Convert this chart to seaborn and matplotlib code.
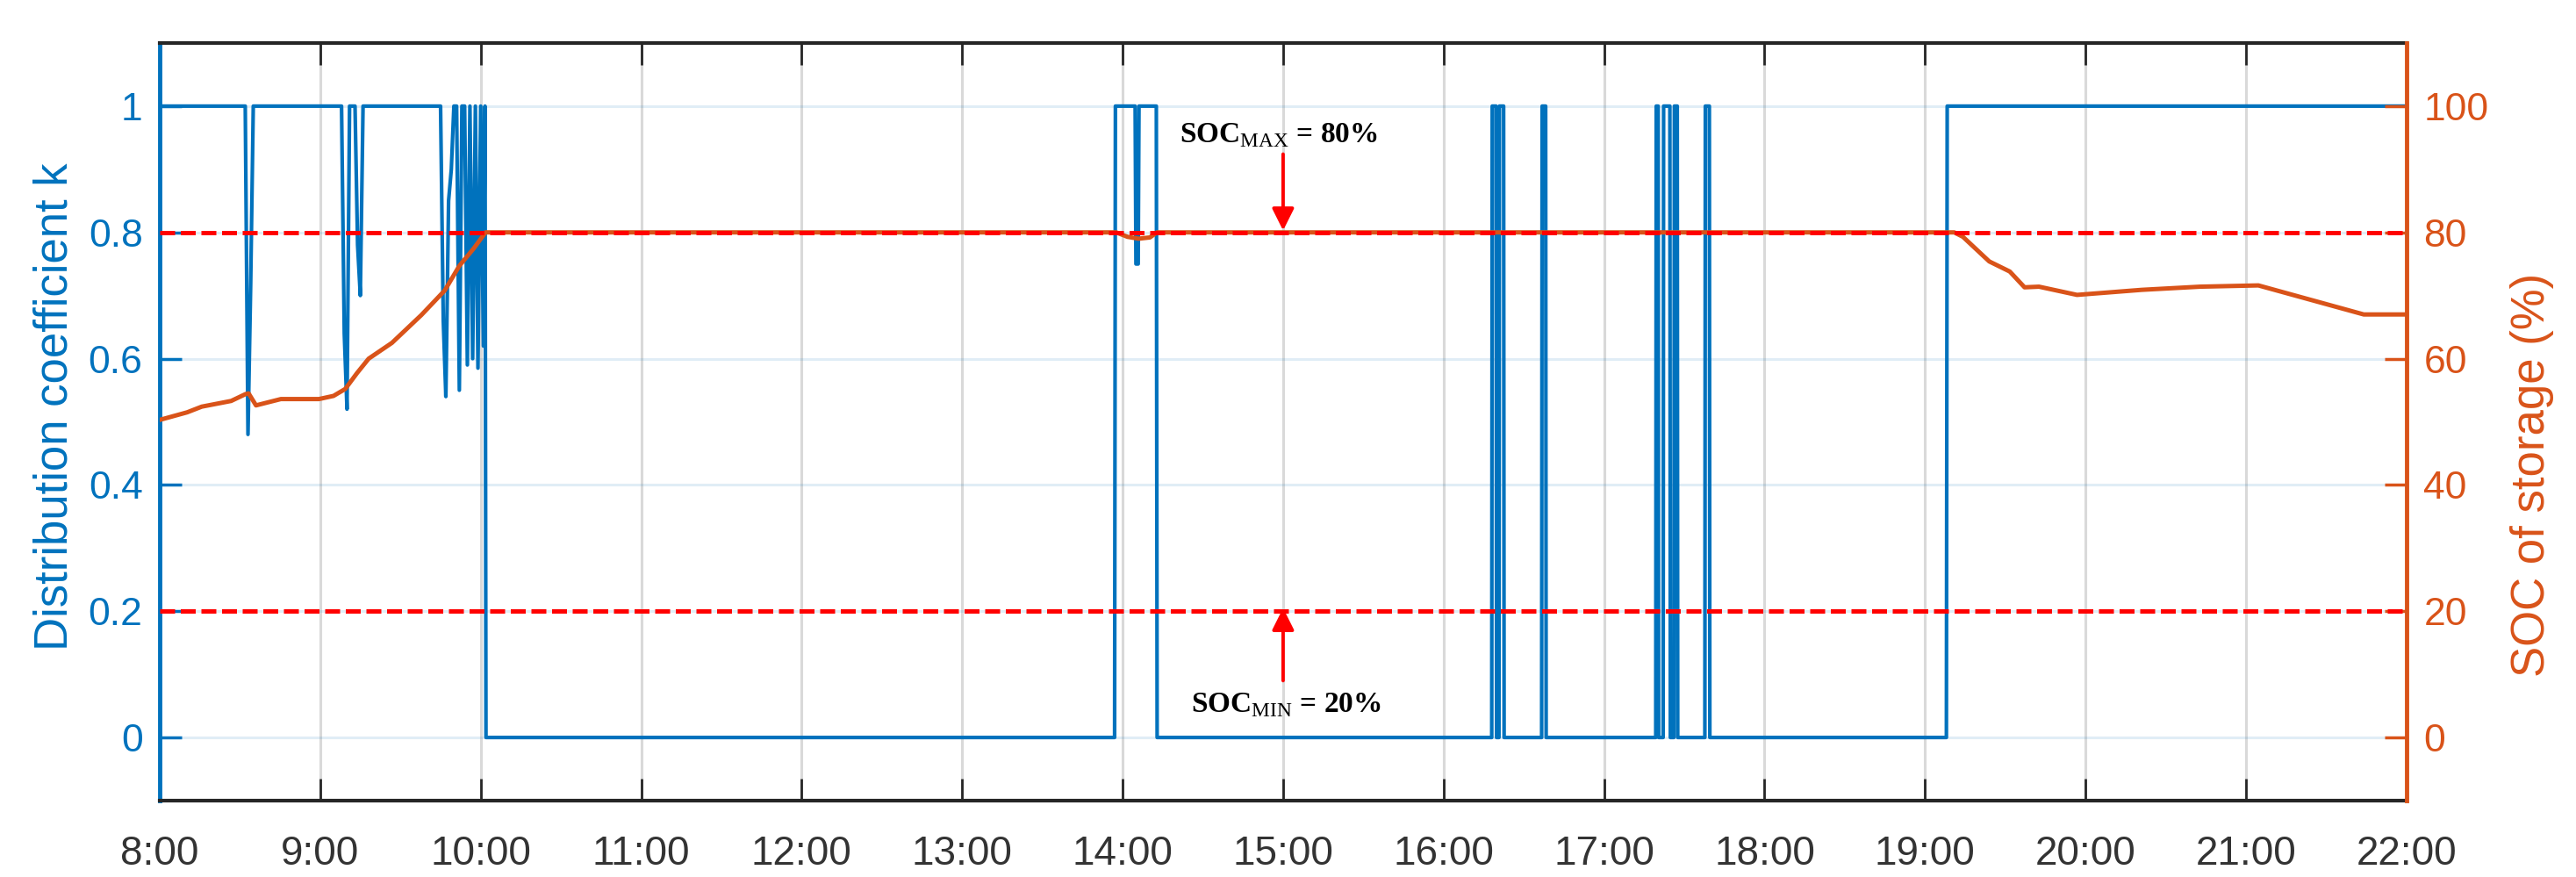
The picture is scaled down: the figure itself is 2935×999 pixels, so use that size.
import matplotlib
matplotlib.use("Agg")
import matplotlib.pyplot as plt
import pandas as pd
import seaborn as sns

# distribution coefficient k (vertices of the step-like signal, time in hours)
k_time = [8.000, 8.533, 8.550, 8.567, 8.583,
          9.133, 9.150, 9.167, 9.183, 9.217, 9.233, 9.250, 9.267,
          9.750, 9.767, 9.783, 9.800, 9.817, 9.833, 9.850, 9.867, 9.883, 9.900,
          9.917, 9.933, 9.950, 9.967, 9.983, 10.000, 10.017, 10.027, 10.033,
          13.950, 13.955, 14.078, 14.083, 14.097, 14.102, 14.210, 14.215,
          16.300, 16.303, 16.327, 16.330, 16.345, 16.348, 16.374, 16.377,
          16.611, 16.614, 16.636, 16.639,
          17.322, 17.325, 17.337, 17.340, 17.368, 17.371, 17.410, 17.413,
          17.435, 17.438, 17.456, 17.459,
          17.628, 17.631, 17.656, 17.659,
          19.133, 19.138, 22.000]
k_value = [1, 1, 0.48, 0.72, 1,
           1, 0.64, 0.52, 1, 1, 0.78, 0.70, 1,
           1, 0.66, 0.54, 0.85, 0.90, 1, 1, 0.55, 1, 1,
           0.59, 1, 0.60, 1, 0.585, 1, 0.62, 1, 0,
           0, 1, 1, 0.75, 0.75, 1, 1, 0,
           0, 1, 1, 0, 0, 1, 1, 0,
           0, 1, 1, 0,
           0, 1, 1, 0, 0, 1, 1, 0,
           0, 1, 1, 0,
           0, 1, 1, 0,
           0, 1, 1]

# state of charge of the storage (%)
soc_time = [8.000, 8.171, 8.262, 8.445, 8.536, 8.554, 8.600, 8.755, 8.992, 9.083,
            9.156, 9.229, 9.302, 9.447, 9.630, 9.776, 9.867, 9.958, 10.030,
            13.960, 14.030, 14.100, 14.170, 14.214,
            19.182, 19.236, 19.400, 19.528, 19.620, 19.710, 19.947, 20.350,
            20.713, 21.077, 21.734, 22.000]
soc_value = [50.3, 51.5, 52.4, 53.3, 54.4, 54.5, 52.6, 53.6, 53.6, 54.1,
             55.2, 57.7, 60.0, 62.5, 66.9, 70.8, 74.7, 77.5, 80.0,
             80.0, 79.3, 79.0, 79.2, 80.0,
             80.0, 79.3, 75.4, 73.8, 71.3, 71.4, 70.1, 70.9,
             71.4, 71.6, 67.0, 67.0]

soc_limits = [80, 20]
hours = list(range(8, 23))
hour_labels = [f"{h}:00" for h in hours]
k_ticks = [0, 0.2, 0.4, 0.6, 0.8, 1]
k_tick_labels = ["0", "0.2", "0.4", "0.6", "0.8", "1"]
soc_ticks = [0, 20, 40, 60, 80, 100]

blue = "#0072BD"
orange = "#D95319"
dark = "#262626"

sns.set_style("white")
plt.rcParams["font.family"] = ["Liberation Sans", "DejaVu Sans"]
plt.rcParams["mathtext.fontset"] = "custom"
plt.rcParams["mathtext.rm"] = "Liberation Serif"
plt.rcParams["mathtext.bf"] = "Liberation Serif:bold"

df_k = pd.DataFrame({"t": k_time, "k": k_value})
df_soc = pd.DataFrame({"t": soc_time, "soc": soc_value})

fig = plt.figure(figsize=(29.35, 9.99), dpi=100)
ax1 = fig.add_axes([0.0620, 0.0871, 0.8722, 0.8639])
ax2 = ax1.twinx()

# grid
ax1.set_axisbelow(True)
ax1.xaxis.grid(True, color="#d9d9d9", lw=2.2)
ax1.yaxis.grid(True, color=blue, alpha=0.12, lw=2.2)

sns.lineplot(data=df_k, x="t", y="k", ax=ax1, color=blue, lw=3.0,
             estimator=None, sort=False)
sns.lineplot(data=df_soc, x="t", y="soc", ax=ax2, color=orange, lw=3.6,
             estimator=None, sort=False)

for lim in soc_limits:
    ax2.axhline(lim, color="red", lw=3.6, ls=(0, (3.4, 1.3)), zorder=5)

# annotations
arrow = dict(arrowstyle="-|>", color="red", lw=2.8, mutation_scale=38,
             shrinkA=0, shrinkB=0)
ax2.annotate("", xy=(15.0, 80.3), xytext=(15.0, 92.4), arrowprops=arrow, zorder=6)
ax2.annotate("", xy=(15.0, 20.5), xytext=(15.0, 9.0), arrowprops=arrow, zorder=6)
ax2.text(14.97, 95.4, r"SOC$_{\mathrm{MAX}}$ = 80%", ha="center", va="center",
         fontsize=24, fontweight="bold", family="Liberation Serif", color="black")
ax2.text(15.02, 5.2, r"SOC$_{\mathrm{MIN}}$ = 20%", ha="center", va="center",
         fontsize=24, fontweight="bold", family="Liberation Serif", color="black")

# axes limits and ticks
ax1.set_xlim(8, 22)
ax1.set_ylim(-0.1, 1.1)
ax2.set_ylim(-10, 110)
ax1.set_xticks(hours)
ax1.set_xticklabels(hour_labels)
ax1.set_yticks(k_ticks)
ax1.set_yticklabels(k_tick_labels)
ax2.set_yticks(soc_ticks)

ax1.tick_params(axis="x", direction="in", length=18, width=2, colors=dark,
                labelsize=33, pad=28, top=True, bottom=True)
ax1.tick_params(axis="y", direction="in", length=18, width=2.5, colors=blue,
                labelsize=32, pad=14)
ax2.tick_params(axis="y", direction="in", length=18, width=2.5, colors=orange,
                labelsize=32, pad=14)
for lab in ax1.get_xticklabels():
    lab.set_color("#333333")

ax1.set_xlabel("")
ax1.set_ylabel("Distribution coefficient k", fontsize=38, color=blue)
ax2.set_ylabel("SOC of storage (%)", fontsize=38, color=orange)
ax1.yaxis.set_label_coords(-0.037, 0.52)
ax2.yaxis.set_label_coords(1.046, 0.43)

# spines
for s in ["top", "bottom"]:
    ax1.spines[s].set_color(dark)
    ax1.spines[s].set_linewidth(3)
    ax2.spines[s].set_visible(False)
ax1.spines["left"].set_color(blue)
ax1.spines["left"].set_linewidth(3.5)
ax1.spines["right"].set_visible(False)
ax2.spines["left"].set_visible(False)
ax2.spines["right"].set_color(orange)
ax2.spines["right"].set_linewidth(3.5)

fig.savefig("out.png", dpi=100, facecolor="white")
